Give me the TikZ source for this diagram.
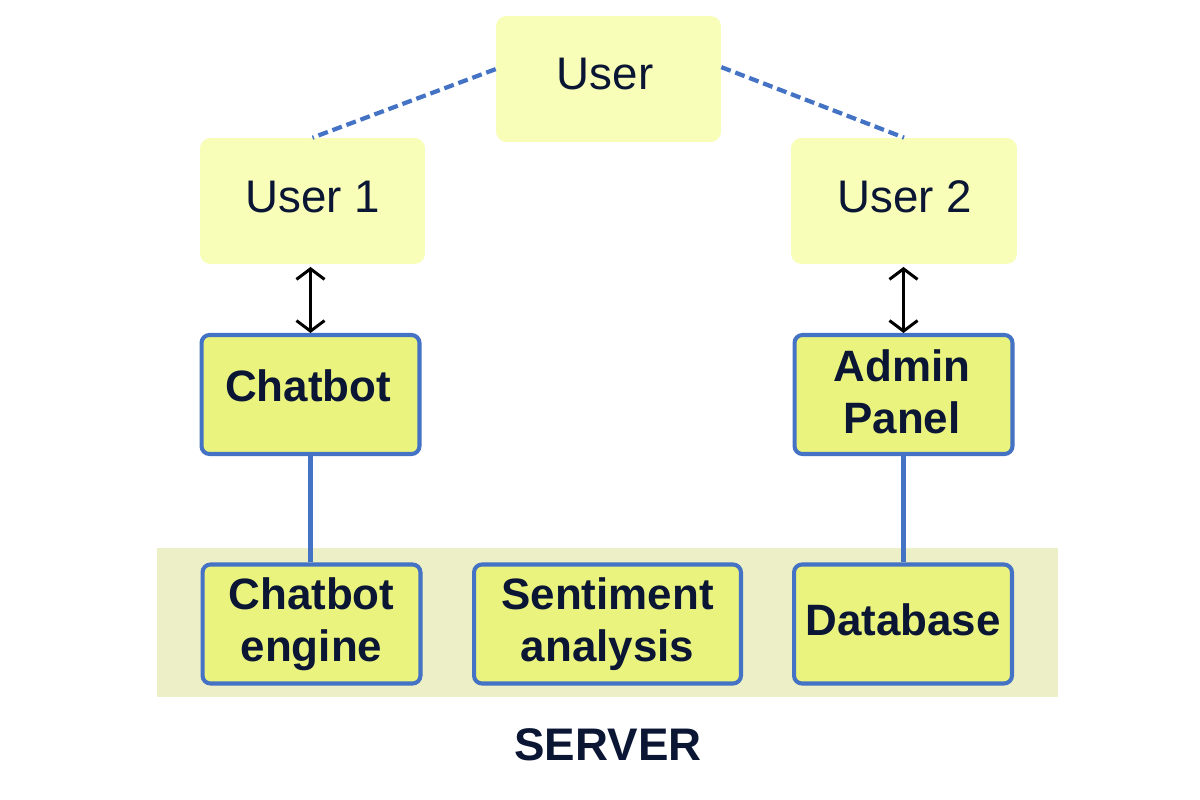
\documentclass[tikz,border=0pt]{standalone}
\usepackage{fontspec}
\setmainfont{Liberation Sans}
\usetikzlibrary{arrows.meta}
\definecolor{txt}{HTML}{0A1633}
\definecolor{ufill}{HTML}{F8FDB8}
\definecolor{bfill}{HTML}{EBF37F}
\definecolor{band}{HTML}{EDEFC6}
\definecolor{lblue}{HTML}{4472C4}
\tikzset{
  userbox/.style={fill=ufill, rounded corners=6pt, minimum width=4.5cm, minimum height=2.52cm, inner sep=0pt, text=txt, font=\fontsize{26}{30}\selectfont},
  bluebox/.style={fill=bfill, draw=lblue, line width=2.3pt, rounded corners=4.5pt, minimum width=4.36cm, minimum height=2.38cm, inner sep=0pt, text=txt, align=center, font=\fontsize{25}{29.5}\selectfont\bfseries},
  lbl/.style={text=txt, inner sep=0pt, align=center},
  dashline/.style={draw=lblue, line width=2.4pt, dash pattern=on 5.7pt off 2.8pt},
  link/.style={draw=lblue, line width=2.3pt},
  dblarrow/.style={line width=1.7pt, {Straight Barb[length=6pt,width=16pt,line width=1.7pt]}-{Straight Barb[length=6pt,width=16pt,line width=1.7pt]}}
}
\begin{document}
\begin{tikzpicture}[x=0.02cm, y=-0.02cm]
\useasboundingbox[fill=white] (0,0) rectangle (1200,800);
\node[fill=band, minimum width=18.02cm, minimum height=2.98cm, inner sep=0pt] (server) at (607.5,622.5) {};
\node[userbox] (user) at (608.5,79) {};
\node[lbl, font=\fontsize{26}{30}\selectfont] (userl) at (605,74) {User};
\node[userbox] (u1) at (312.5,201) {};
\node[lbl, font=\fontsize{26}{30}\selectfont] (u1l) at (312.5,197) {User 1};
\node[userbox, minimum width=4.52cm] (u2) at (904,201) {};
\node[lbl, font=\fontsize{26}{30}\selectfont] (u2l) at (905,197) {User 2};
\node[bluebox] (cb) at (310.5,394.5) {};
\node[lbl, font=\fontsize{25}{29.5}\selectfont\bfseries] (cbl) at (308,386) {Chatbot};
\node[bluebox] (ap) at (903.5,394.5) {};
\node[lbl, font=\fontsize{25}{29.5}\selectfont\bfseries] (apl) at (902,391.5) {Admin\\Panel};
\node[bluebox] (ce) at (311.5,624) {Chatbot\\engine};
\node[bluebox, minimum width=5.34cm] (sa) at (607.5,624) {Sentiment\\analysis};
\node[bluebox] (db) at (903,624) {};
\node[lbl, font=\fontsize{25}{29.5}\selectfont\bfseries] (dbl) at (903,620) {Database};
\node[text=txt, font=\fontsize{26}{30}\selectfont\bfseries] (srv) at (608,745) {SERVER};
\draw[dashline] (user.175) -- (u1.north);
\draw[dashline] (user.6) -- (u2.north);
\draw[dblarrow] ([yshift=-1.5pt]cb.north |- u1.south) -- (cb.north);
\draw[dblarrow] ([yshift=-1.5pt]ap.north |- u2.south) -- (ap.north);
\draw[link] (cb.south) -- (cb.south |- ce.north);
\draw[link] (ap.south) -- (ap.south |- db.north);
\end{tikzpicture}
\end{document}
